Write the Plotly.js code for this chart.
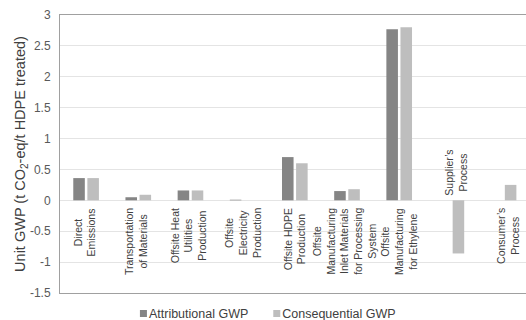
<!DOCTYPE html>
<html>
<head>
<meta charset="utf-8">
<script src="https://cdn.plot.ly/plotly-3.0.1.min.js"></script>
<style>html,body{margin:0;padding:0;background:#fff;}#chart{width:526px;height:320px;}</style>
</head>
<body>
<div id="chart"></div>
<script>
var categories = ["Direct Emissions","Transportation of Materials","Offsite Heat Utilities Production","Offsite Electricity Production","Offsite HDPE Production","Offsite Manufacturing Inlet Materials for Processing System","Offsite Manufacturing for Ethylene","Supplier's Process","Consumer's Process"];
var categoryLabels = ["Direct<br>Emissions","Transportation<br>of Materials","Offsite Heat<br>Utilities<br>Production","Offsite<br>Electricity<br>Production","Offsite HDPE<br>Production","Offsite<br>Manufacturing<br>Inlet Materials<br>for Processing<br>System","Offsite<br>Manufacturing<br>for Ethylene","Supplier\u2019s<br>Process","Consumer\u2019s<br>Process"];
var attributional = [0.36, 0.05, 0.16, 0.01, 0.70, 0.15, 2.77, 0, 0];
var consequential = [0.36, 0.09, 0.16, 0, 0.60, 0.18, 2.80, -0.86, 0.25];
var yTickVals = [-1.5, -1, -0.5, 0, 0.5, 1, 1.5, 2, 2.5, 3];
var yTickText = ["-1.5", "-1", "-0.5", "0", "0.5", "1", "1.5", "2", "2.5", "3"];

var traces = [
  {type:'bar', name:'Attributional GWP', x:categories, y:attributional, marker:{color:'#858585'}},
  {type:'bar', name:'Consequential GWP', x:categories, y:consequential, marker:{color:'#bebebe'}}
];

var xShifts = [-1, -2, -2, 0, 0, -2, 0, 5, 5];
var annotations = categories.map(function(c, i){
  var above = consequential[i] < 0 && attributional[i] <= 0;
  return {
    x: c, y: 0, xref:'x', yref:'y',
    text: categoryLabels[i], showarrow:false, textangle:-90, align:'center',
    xanchor:'center', yanchor: above ? 'bottom' : 'top', yshift: above ? 3 : -6, xshift: xShifts[i],
    font:{family:'Liberation Sans, Arial, sans-serif', size:10.5, color:'#404040'}
  };
});

var layout = {
  width:526, height:320,
  margin:{l:60, r:0, t:15, b:27, autoexpand:false},
  paper_bgcolor:'#fff', plot_bgcolor:'#fff',
  font:{family:'Liberation Sans, Arial, sans-serif', color:'#595959'},
  barmode:'group', bargap:0.46, bargroupgap:0.18,
  showlegend:true,
  legend:{orientation:'h', x:0.105, xanchor:'left', y:-0.075, yanchor:'middle',
          font:{size:12.5, color:'#404040'}, itemwidth:30, traceorder:'normal'},
  xaxis:{type:'category', range:[-0.5, 8.43], showticklabels:false, ticks:'',
         showline:true, mirror:true, linecolor:'#a0a0a0', linewidth:1, showgrid:false, zeroline:false, fixedrange:true},
  yaxis:{range:[-1.5, 3], tickvals:yTickVals, ticktext:yTickText, showgrid:true, gridcolor:'#e4e4e4', gridwidth:1,
         zeroline:false, showline:true, mirror:true, linecolor:'#a0a0a0', linewidth:1,
         ticks:'outside', ticklen:6, tickcolor:'rgba(0,0,0,0)',
         tickfont:{size:12, color:'#595959'},
         title:{text:'Unit GWP (t CO<sub>2</sub>-eq/t HDPE treated)', font:{size:14.5, color:'#404040'}, standoff:0}},
  annotations: annotations
};
Plotly.newPlot('chart', traces, layout, {staticPlot:true, displayModeBar:false}).then(function(){
  var paths = document.querySelectorAll('.legend .traces .legendpoints path');
  paths.forEach(function(p){ p.setAttribute('d', 'M11,-3.5H18V3.5H11Z'); });
  var items = document.querySelectorAll('.legend .traces');
  if (items.length > 1) {
    var t = items[1].getAttribute('transform') || '';
    var m = /translate\(\s*([-\d.]+)[ ,]+([-\d.]+)\s*\)/.exec(t);
    if (m) items[1].setAttribute('transform', 'translate(' + (parseFloat(m[1]) - 11) + ',' + m[2] + ')');
  }
});
</script>
</body>
</html>
